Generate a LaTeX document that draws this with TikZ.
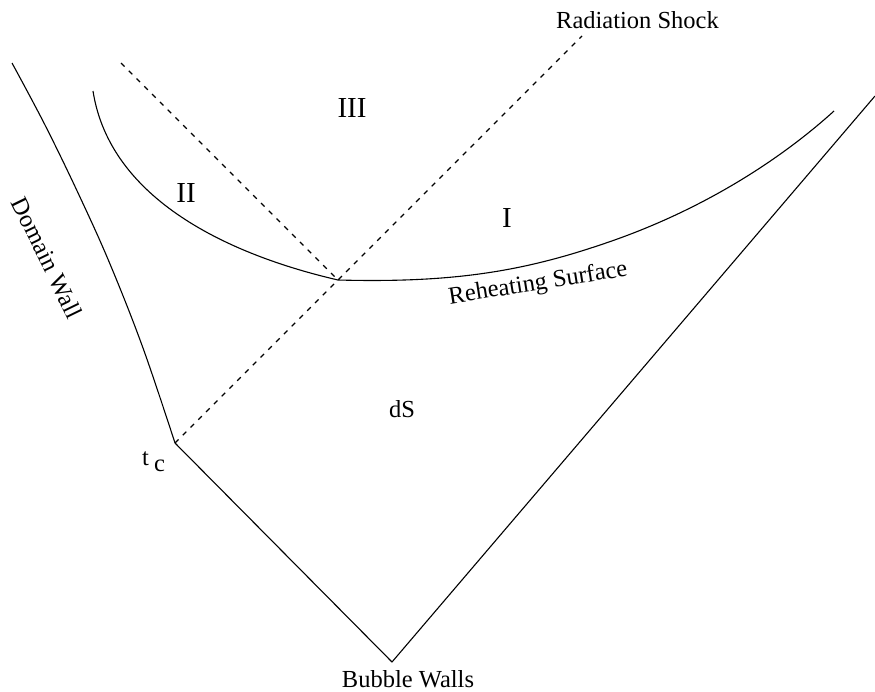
\documentclass[tikz,border=0pt]{standalone}
\usepackage{fontspec}
\setmainfont{Liberation Serif}
\begin{document}
\begin{tikzpicture}[x=1pt,y=-1pt,
  wall/.style={line width=1.1pt, line join=round},
  shockline/.style={line width=1.1pt, dash pattern=on 5pt off 6pt},
  lbl/.style={font=\fontsize{24.5}{28}\selectfont, inner sep=0pt},
  roman/.style={font=\fontsize{29}{32}\selectfont, inner sep=0pt}]
\useasboundingbox (0,0) rectangle (875,691);
% key points
\coordinate (tc) at (175,443);
\coordinate (bot) at (392,662);
\coordinate (rtop) at (875,96);
\coordinate (cross) at (338,280);
\coordinate (shocktop) at (582,36);
\coordinate (dashtop) at (121,63);
\coordinate (dwtop) at (12,63);
\coordinate (rhleft) at (93,91);
\coordinate (rhmid) at (600,245);
\coordinate (rhright) at (834,111);
% bubble walls
\draw[wall] (rtop) -- (bot) -- (tc);
% domain wall
\draw[wall] plot[smooth, tension=0.6] coordinates {(dwtop) (45,125) (79,195) (110,264) (143,348) (tc)};
% radiation shock and II/III boundary
\draw[shockline] (tc) -- (shocktop);
\draw[shockline] (dashtop) -- (cross);
% reheating surface
\draw[wall] (rhleft) .. controls (110,200) and (230,255) .. (cross);
\draw[wall] (cross) .. controls (450,283) and (520,272) .. (rhmid)
  .. controls (700,212) and (780,160) .. (rhright);
% labels
\node[lbl, anchor=base west] (rs) at (556,28) {Radiation Shock};
\node[lbl, anchor=base] (bw) at (408,687) {Bubble Walls};
\node[lbl, anchor=base west] (tcl) at (142,465) {t\kern5pt\raisebox{-6pt}{c}};
\node[roman, anchor=base] (r3) at (352,117) {III};
\node[roman, anchor=base] (r2) at (186,202) {II};
\node[roman, anchor=base] (r1) at (507,227) {I};
\node[lbl, anchor=base] (ds) at (402,417) {dS};
\node[lbl, rotate=-64] (dw) at (47,258) {Domain Wall};
\node[lbl, rotate=9] (rh) at (538,284) {Reheating Surface};
\end{tikzpicture}
\end{document}
